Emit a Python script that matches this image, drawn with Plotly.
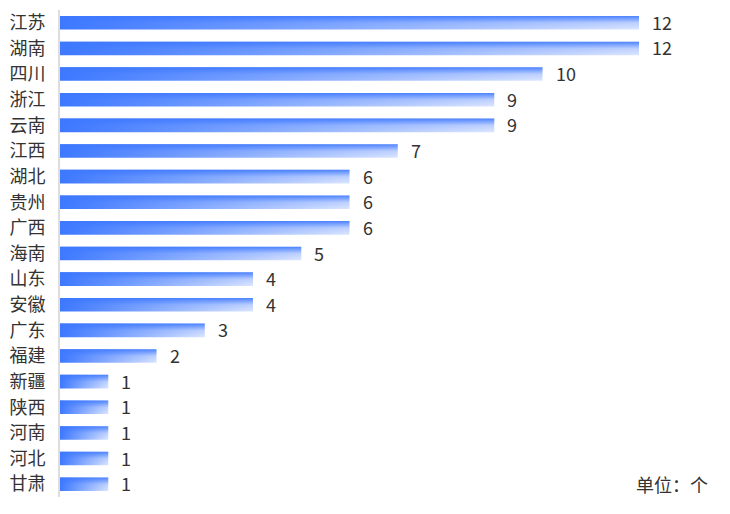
import plotly.graph_objects as go

provinces = ["江苏", "湖南", "四川", "浙江", "云南", "江西", "湖北", "贵州", "广西", "海南",
             "山东", "安徽", "广东", "福建", "新疆", "陕西", "河南", "河北", "甘肃"]
counts = [12, 12, 10, 9, 9, 7, 6, 6, 6, 5, 4, 4, 3, 2, 1, 1, 1, 1, 1]
unit_label = "单位：个"

FONT = "Noto Sans CJK SC, Microsoft YaHei, sans-serif"
n = len(provinces)
half = 0.265

fig = go.Figure()
for i, (p, v) in enumerate(zip(provinces, counts)):
    yc = n - 1 - i
    xs = [0, v, v, 0, 0]
    ys = [yc - half, yc - half, yc + half, yc + half, yc - half]
    fig.add_trace(go.Scatter(
        x=xs, y=ys, mode="lines", fill="toself", line=dict(width=0),
        fillgradient=dict(type="horizontal",
                          colorscale=[[0, "#3d78ff"], [1, "#dce6ff"]]),
        hoverinfo="skip", showlegend=False))
    fig.add_trace(go.Scatter(
        x=xs, y=ys, mode="lines", fill="toself", line=dict(width=0),
        fillgradient=dict(type="vertical",
                          colorscale=[[0, "rgba(61,120,255,0)"],
                                      [0.5, "rgba(61,120,255,0.2)"],
                                      [1, "rgba(61,120,255,0.9)"]]),
        hoverinfo="skip", showlegend=False))
    fig.add_annotation(x=v, y=yc, text=str(v), showarrow=False,
                       xanchor="left", xshift=11, yshift=1,
                       font=dict(size=18, color="#333333", family=FONT))

fig.add_annotation(xref="paper", yref="paper", x=1.1226, y=0.027,
                   text=unit_label, showarrow=False, xanchor="right",
                   yanchor="middle",
                   font=dict(size=18, color="#333333", family=FONT))

fig.update_layout(
    width=730, height=514,
    margin=dict(l=60, r=91, t=8, b=17),
    paper_bgcolor="white", plot_bgcolor="white",
    font=dict(family=FONT, size=18, color="#333333"),
    xaxis=dict(range=[0, 12], showgrid=False, zeroline=False,
               showticklabels=False, showline=False),
    yaxis=dict(range=[-0.5, n - 0.5], tickmode="array",
               tickvals=[n - 1 - i for i in range(n)], ticktext=provinces,
               showgrid=False, zeroline=False, showline=True,
               linecolor="#dddddd", linewidth=2, ticks="",
               ticklabelstandoff=9,
               tickfont=dict(size=18, color="#333333", family=FONT)),
)

fig.write_html("out.html",
               config={"displayModeBar": False},
               post_script="document.body.style.margin='0';document.body.style.overflow='hidden';")
